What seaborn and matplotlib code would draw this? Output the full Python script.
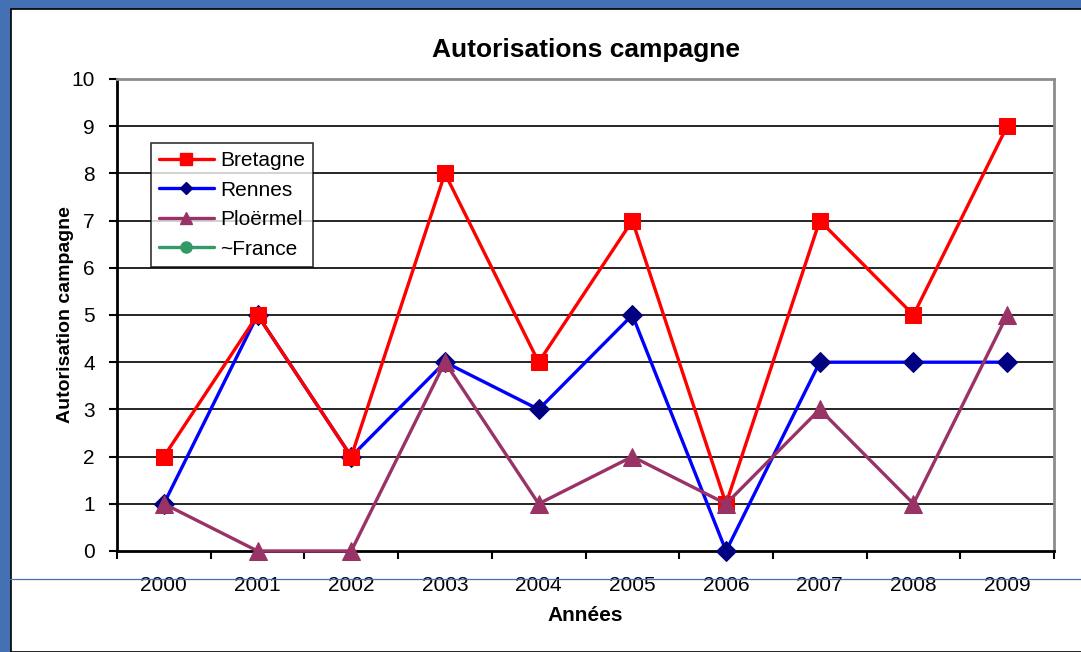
import matplotlib
matplotlib.use("Agg")
import matplotlib.pyplot as plt
import matplotlib.patches as mpatches
from matplotlib.lines import Line2D
import numpy as np
import pandas as pd
import seaborn as sns

## DATA
years = ["2000", "2001", "2002", "2003", "2004", "2005", "2006", "2007", "2008", "2009"]
bretagne = [2, 5, 2, 8, 4, 7, 1, 7, 5, 9]
rennes = [1, 5, 2, 4, 3, 5, 0, 4, 4, 4]
ploermel = [1, 0, 0, 4, 1, 2, 1, 3, 1, 5]
y_ticks = [0, 1, 2, 3, 4, 5, 6, 7, 8, 9, 10]

sns.set_style("white")
plt.rcParams["font.family"] = ["Liberation Sans", "DejaVu Sans"]
for key in ["text.color", "axes.labelcolor", "xtick.color", "ytick.color"]:
    plt.rcParams[key] = "black"

fig = plt.figure(figsize=(10.81, 6.52), dpi=100, facecolor="#4471b3")
# white slide area with thin black edge
fig.add_artist(mpatches.Rectangle((11 / 1081, 0), 1, (652 - 9) / 652, transform=fig.transFigure,
                                  facecolor="white", edgecolor="black", linewidth=1.2, zorder=0))
ax = fig.add_axes([117 / 1081, 1 - 551 / 652, (1054 - 117) / 1081, (551 - 79) / 652])
ax.set_facecolor("white")

df = pd.DataFrame({"x": np.arange(len(years)), "Bretagne": bretagne,
                   "Rennes": rennes, "Ploërmel": ploermel})

# horizontal grid
for v in y_ticks[1:-1]:
    ax.axhline(v, color="black", linewidth=1.2, zorder=1)

sns.lineplot(data=df, x="x", y="Bretagne", ax=ax, color="#ff0000", linewidth=2.4,
             marker="s", markersize=12, markeredgecolor="#ff0000", zorder=4, clip_on=False)
sns.lineplot(data=df, x="x", y="Rennes", ax=ax, color="#0000ff", linewidth=2.4,
             marker="D", markersize=10, markerfacecolor="#000080", markeredgecolor="#000080",
             zorder=3, clip_on=False)
sns.lineplot(data=df, x="x", y="Ploërmel", ax=ax, color="#993366", linewidth=2.4,
             marker="^", markersize=13, markeredgecolor="#993366", zorder=5, clip_on=False)

ax.set_xlim(-0.5, len(years) - 0.5)
ax.set_ylim(0, 10)
ax.set_yticks(y_ticks)
ax.set_yticklabels([str(v) for v in y_ticks], fontsize=15)
ax.set_xticks(np.arange(len(years)))
ax.set_xticklabels(years, fontsize=15)
ax.set_xticks(np.arange(-0.5, len(years)), minor=True)
ax.tick_params(axis="x", which="major", bottom=True, length=0, pad=18)
ax.tick_params(axis="x", which="minor", bottom=True, length=6, width=1.5, color="black",
               direction="out")
ax.tick_params(axis="y", left=True, length=6, width=1.5, color="black", direction="out", pad=10)

for side in ["left", "bottom"]:
    ax.spines[side].set_color("black")
    ax.spines[side].set_linewidth(2)
for side in ["top", "right"]:
    ax.spines[side].set_color("#8c8c8c")
    ax.spines[side].set_linewidth(2)

ax.set_title("Autorisations campagne", fontsize=19, fontweight="bold", pad=16)
ax.set_xlabel("Années", fontsize=15, fontweight="bold", labelpad=8)
ax.set_ylabel("Autorisation campagne", fontsize=14, fontweight="bold",
              family=["Liberation Sans Narrow", "Liberation Sans", "DejaVu Sans"])
ax.yaxis.set_label_coords(-0.046, 0.5)

handles = [
    Line2D([], [], color="#ff0000", linewidth=2.4, marker="s", markersize=9),
    Line2D([], [], color="#0000ff", linewidth=2.4, marker="D", markersize=6,
           markerfacecolor="#000080", markeredgecolor="#000080"),
    Line2D([], [], color="#993366", linewidth=2.4, marker="^", markersize=9),
    Line2D([], [], color="#339966", linewidth=2.4, marker="o", markersize=8),
]
leg = ax.legend(handles, ["Bretagne", "Rennes", "Ploërmel", "~France"], loc="upper left",
                bbox_to_anchor=(34 / 937, 1 - 64 / 472), fontsize=15, frameon=True,
                fancybox=False, edgecolor="black", handlelength=2.6, handletextpad=0.3,
                borderpad=0.4, labelspacing=0.5, borderaxespad=0)
leg.get_frame().set_linewidth(1.2)
leg.set_zorder(10)

# thin stray line across the capture
fig.add_artist(Line2D([0, 1], [1 - 579 / 652, 1 - 579 / 652], transform=fig.transFigure,
                      color="#4471b3", linewidth=0.9))

plt.savefig("out.png", dpi=100, facecolor=fig.get_facecolor())
